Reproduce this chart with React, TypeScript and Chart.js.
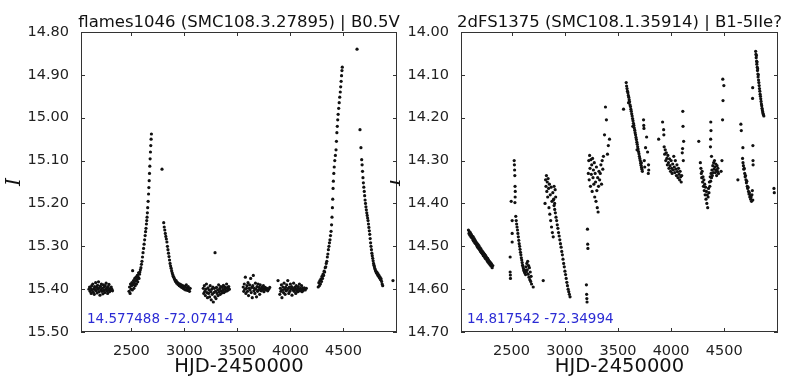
import React, { useEffect, useRef } from "react";
import { Chart, registerables } from "chart.js";

Chart.register(...registerables);

type Pt = [number, number];

// ---------- axes ----------
const X_MIN = 2025;
const X_MAX = 5005;
const X_TICKS = [2500, 3000, 3500, 4000, 4500];
const LEFT_Y_TICKS = [14.8, 14.9, 15.0, 15.1, 15.2, 15.3, 15.4, 15.5];
const RIGHT_Y_TICKS = [14.0, 14.1, 14.2, 14.3, 14.4, 14.5, 14.6, 14.7];

const LEFT_TITLE = "flames1046 (SMC108.3.27895) | B0.5V";
const RIGHT_TITLE = "2dFS1375 (SMC108.1.35914) | B1-5IIe?";
const LEFT_COORDS = "14.577488 -72.07414";
const RIGHT_COORDS = "14.817542 -72.34994";
const X_LABEL = "HJD-2450000";
const Y_LABEL = "I";

// ---------- left panel data: [HJD-2450000, I mag] ----------
const leftSeason1: Pt[] = [
  [2100,15.400],[2106,15.395],[2111,15.405],[2116,15.398],[2121,15.410],[2126,15.392],[2131,15.402],[2136,15.388],
  [2141,15.407],[2145,15.399],[2150,15.412],[2154,15.394],[2159,15.401],[2163,15.385],[2168,15.404],[2172,15.396],
  [2177,15.409],[2181,15.391],[2186,15.400],[2190,15.383],[2195,15.406],[2199,15.397],[2204,15.414],[2208,15.393],
  [2213,15.402],[2217,15.388],[2222,15.405],[2226,15.398],[2231,15.411],[2235,15.390],[2240,15.403],[2244,15.395],
  [2249,15.408],[2253,15.392],[2258,15.400],[2262,15.386],[2267,15.404],[2271,15.397],[2276,15.410],[2280,15.394],
  [2285,15.401],[2289,15.389],[2294,15.406],[2299,15.399],[2304,15.403],[2310,15.395],[2316,15.400],[2322,15.404],
];
const leftSeason2: Pt[] = [
  [2478,15.405],[2483,15.395],[2488,15.410],[2492,15.388],[2497,15.400],[2501,15.392],[2505,15.385],[2509,15.402],
  [2512,15.357],[2516,15.390],[2520,15.380],[2524,15.398],[2528,15.386],[2532,15.375],[2536,15.392],[2540,15.381],
  [2544,15.372],[2548,15.388],[2552,15.378],[2556,15.368],[2560,15.383],[2564,15.372],[2568,15.362],[2572,15.375],
  [2576,15.365],[2580,15.360],[2585,15.355],[2590,15.350],[2595,15.342],[2600,15.335],[2605,15.325],[2610,15.315],
  [2615,15.305],[2620,15.295],[2625,15.285],[2630,15.275],[2634,15.266],[2638,15.258],[2642,15.248],[2645,15.240],
  [2648,15.232],[2651,15.222],[2654,15.210],[2658,15.195],[2662,15.178],[2665,15.163],[2668,15.147],[2671,15.130],
  [2674,15.113],[2677,15.096],[2680,15.080],[2683,15.065],[2686,15.050],[2689,15.038],
];
const leftIsolated: Pt[] = [
  [2789,15.120],[3289,15.315],[4628,14.840],[4967,15.380],
];
const leftSeason3: Pt[] = [
  [2805,15.245],[2810,15.255],[2815,15.262],[2820,15.270],[2825,15.277],[2830,15.283],[2835,15.290],[2840,15.300],
  [2845,15.308],[2850,15.316],[2855,15.324],[2860,15.332],[2865,15.340],[2870,15.346],[2875,15.351],[2880,15.357],
  [2885,15.362],[2890,15.366],[2895,15.370],[2900,15.372],[2905,15.376],[2910,15.378],[2916,15.382],[2922,15.380],
  [2928,15.386],[2934,15.384],[2940,15.389],[2946,15.387],[2952,15.392],[2958,15.388],[2964,15.394],[2970,15.390],
  [2976,15.396],[2982,15.392],[2988,15.398],[2994,15.393],[3000,15.400],[3006,15.395],[3012,15.402],[3018,15.390],
  [3024,15.397],[3030,15.403],[3036,15.394],[3042,15.400],[3048,15.405],[3054,15.398],
];
const leftSeason4: Pt[] = [
  [3178,15.398],[3183,15.410],[3188,15.392],[3193,15.405],[3198,15.415],[3203,15.400],[3208,15.388],[3213,15.408],
  [3218,15.420],[3223,15.397],[3228,15.410],[3233,15.402],[3238,15.418],[3243,15.392],[3248,15.406],[3253,15.425],
  [3258,15.400],[3263,15.412],[3268,15.395],[3273,15.430],[3278,15.408],[3283,15.398],[3288,15.418],[3293,15.405],
  [3298,15.422],[3303,15.396],[3308,15.410],[3313,15.402],[3318,15.415],[3323,15.390],[3328,15.406],[3333,15.399],
  [3338,15.412],[3343,15.394],[3348,15.404],[3353,15.409],[3358,15.396],[3363,15.403],[3368,15.391],[3373,15.408],
  [3378,15.400],[3383,15.395],[3388,15.405],[3393,15.398],[3398,15.388],[3403,15.404],[3408,15.396],[3413,15.402],
  [3418,15.394],[3424,15.400],
];
const leftSeason5: Pt[] = [
  [3555,15.395],[3560,15.405],[3565,15.388],[3570,15.400],[3575,15.372],[3580,15.410],[3585,15.398],[3590,15.392],
  [3595,15.405],[3600,15.385],[3605,15.415],[3610,15.398],[3615,15.390],[3620,15.402],[3625,15.375],[3630,15.408],
  [3635,15.396],[3640,15.420],[3645,15.392],[3650,15.368],[3655,15.404],[3660,15.398],[3665,15.410],[3670,15.386],
  [3675,15.400],[3680,15.418],[3685,15.394],[3690,15.405],[3695,15.388],[3700,15.402],[3705,15.396],[3710,15.412],
  [3715,15.390],[3720,15.400],[3725,15.404],[3730,15.395],[3735,15.402],[3740,15.398],[3745,15.392],[3750,15.406],
  [3755,15.400],[3762,15.396],[3770,15.402],[3778,15.398],[3786,15.404],[3795,15.400],[3805,15.396],
];
const leftSeason6: Pt[] = [
  [3883,15.380],[3900,15.412],[3905,15.398],[3910,15.405],[3915,15.390],[3920,15.420],[3925,15.402],[3930,15.395],
  [3935,15.408],[3940,15.386],[3945,15.400],[3950,15.412],[3955,15.396],[3960,15.404],[3965,15.390],[3970,15.402],
  [3975,15.380],[3980,15.398],[3985,15.410],[3990,15.395],[3995,15.405],[4000,15.388],[4005,15.400],[4010,15.394],
  [4015,15.414],[4020,15.398],[4025,15.402],[4030,15.386],[4035,15.405],[4040,15.396],[4045,15.400],[4050,15.410],
  [4055,15.392],[4060,15.403],[4065,15.398],[4070,15.406],[4075,15.394],[4080,15.400],[4085,15.388],[4090,15.404],
  [4095,15.398],[4100,15.402],[4105,15.392],[4110,15.406],[4115,15.398],[4120,15.403],[4130,15.397],[4140,15.402],
  [4150,15.398],
];
const leftSeason7: Pt[] = [
  [4262,15.395],[4268,15.385],[4273,15.392],[4278,15.380],[4283,15.388],[4288,15.376],[4293,15.382],[4298,15.370],
  [4303,15.375],[4308,15.365],[4313,15.368],[4318,15.358],[4323,15.360],[4328,15.350],[4333,15.348],[4338,15.340],
  [4343,15.335],[4348,15.325],[4353,15.318],[4358,15.308],[4363,15.300],[4368,15.292],[4373,15.285],[4378,15.275],
  [4383,15.265],[4388,15.250],[4392,15.232],[4396,15.210],[4399,15.190],[4402,15.165],[4405,15.148],[4409,15.130],
  [4413,15.115],[4418,15.100],[4424,15.088],[4430,15.075],[4434,15.055],[4438,15.035],[4442,15.020],[4446,15.005],
  [4450,14.992],[4455,14.978],[4460,14.965],[4465,14.952],[4470,14.940],[4474,14.928],[4478,14.915],[4482,14.902],
  [4486,14.890],[4489,14.882],
];
const leftSeason8: Pt[] = [
  [4656,15.028],[4665,15.070],[4672,15.098],[4676,15.110],[4680,15.125],[4684,15.140],[4688,15.152],[4692,15.162],
  [4696,15.172],[4700,15.182],[4704,15.192],[4708,15.200],[4712,15.208],[4716,15.215],[4720,15.222],[4724,15.228],
  [4728,15.234],[4732,15.240],[4736,15.248],[4740,15.256],[4744,15.264],[4748,15.272],[4752,15.282],[4756,15.292],
  [4760,15.300],[4764,15.308],[4768,15.316],[4772,15.322],[4776,15.328],[4780,15.334],[4784,15.340],[4788,15.344],
  [4792,15.348],[4796,15.352],[4800,15.355],[4805,15.358],[4810,15.362],[4815,15.360],[4820,15.366],[4825,15.364],
  [4830,15.370],[4835,15.368],[4840,15.374],[4845,15.372],[4850,15.378],[4855,15.376],[4860,15.382],[4865,15.388],
  [4870,15.392],
];

// ---------- right panel data ----------
const rightSeason1: Pt[] = [
  [2095,14.462],[2100,14.470],[2104,14.466],[2109,14.474],[2113,14.468],[2118,14.478],[2122,14.472],[2127,14.480],
  [2131,14.476],[2136,14.485],[2140,14.478],[2145,14.488],[2149,14.482],[2154,14.492],[2158,14.486],[2163,14.494],
  [2167,14.490],[2172,14.498],[2176,14.493],[2181,14.502],[2185,14.496],[2190,14.505],[2194,14.499],[2199,14.508],
  [2203,14.503],[2208,14.512],[2212,14.506],[2217,14.515],[2221,14.510],[2226,14.518],[2230,14.513],[2235,14.522],
  [2239,14.516],[2244,14.524],[2248,14.519],[2253,14.528],[2257,14.522],[2262,14.530],[2266,14.526],[2271,14.534],
  [2275,14.528],[2280,14.537],[2284,14.532],[2289,14.540],[2293,14.535],[2298,14.543],[2302,14.538],[2307,14.546],
  [2312,14.541],[2318,14.550],[2324,14.545],
];
const rightSeason2: Pt[] = [
  [2525,14.300],[2527,14.310],[2529,14.322],[2531,14.335],[2533,14.360],[2535,14.372],[2534,14.385],[2532,14.398],
  [2497,14.395],[2506,14.440],[2506,14.470],[2506,14.490],[2487,14.525],[2487,14.560],[2489,14.567],[2490,14.575],
  [2540,14.430],[2544,14.440],[2548,14.448],[2552,14.455],[2556,14.462],[2560,14.470],[2564,14.478],[2568,14.486],
  [2572,14.494],[2576,14.500],[2580,14.507],[2584,14.514],[2588,14.520],[2592,14.527],[2596,14.532],[2600,14.538],
  [2604,14.544],[2608,14.548],[2612,14.552],[2616,14.556],[2620,14.559],[2624,14.562],[2628,14.556],[2632,14.566],
  [2636,14.548],[2640,14.560],[2644,14.540],[2648,14.555],[2652,14.535],[2656,14.565],[2660,14.545],[2664,14.572],
  [2668,14.550],[2672,14.578],[2676,14.560],[2680,14.582],[2684,14.570],[2688,14.588],[2704,14.595],
];
const rightIsolated: Pt[] = [
  [2798,14.580],[4628,14.345],[4967,14.365],[4970,14.375],
];
const rightSeason3: Pt[] = [
  [2815,14.400],[2820,14.345],[2824,14.360],[2828,14.335],[2832,14.372],[2836,14.350],[2840,14.385],[2844,14.342],
  [2848,14.365],[2852,14.410],[2856,14.355],[2860,14.425],[2864,14.380],[2868,14.440],[2872,14.362],[2876,14.455],
  [2880,14.395],[2884,14.468],[2888,14.375],[2892,14.478],[2896,14.390],[2900,14.360],[2905,14.400],[2910,14.368],
  [2915,14.385],
  [2893,14.392],[2900,14.405],[2906,14.414],[2912,14.422],[2918,14.432],[2924,14.440],[2930,14.450],[2936,14.458],
  [2942,14.468],[2948,14.476],[2954,14.485],[2960,14.494],[2966,14.502],[2972,14.512],[2978,14.520],[2984,14.530],
  [2990,14.540],[2996,14.548],[3002,14.558],[3008,14.566],[3014,14.575],[3020,14.584],[3026,14.592],[3032,14.600],
  [3038,14.606],[3044,14.612],[3050,14.618],
];
const rightSeason4: Pt[] = [
  [3204,14.590],[3206,14.612],[3208,14.622],[3210,14.630],[3214,14.460],[3216,14.495],[3218,14.505],
  [3222,14.330],[3226,14.300],[3230,14.345],[3234,14.288],[3238,14.318],[3242,14.360],[3246,14.298],[3250,14.332],
  [3254,14.310],[3258,14.372],[3262,14.295],[3266,14.340],[3270,14.322],[3274,14.355],[3278,14.305],[3282,14.385],
  [3286,14.330],[3290,14.350],[3294,14.395],[3298,14.315],[3302,14.370],[3306,14.410],[3310,14.340],[3314,14.420],
  [3318,14.360],[3322,14.325],[3328,14.345],[3334,14.330],[3340,14.310],[3346,14.355],[3352,14.300],[3358,14.320],
  [3364,14.290],
  [3374,14.240],[3383,14.175],[3392,14.205],[3402,14.285],[3421,14.250],[3410,14.265],
];
const rightSeason5: Pt[] = [
  [3553,14.180],
  [3578,14.118],[3582,14.126],[3586,14.132],[3590,14.138],[3594,14.142],[3598,14.148],[3602,14.152],[3606,14.158],
  [3610,14.163],[3614,14.170],[3618,14.174],[3622,14.180],[3626,14.185],[3630,14.191],[3634,14.196],[3638,14.202],
  [3642,14.207],[3646,14.213],[3650,14.218],[3654,14.224],[3658,14.229],[3662,14.235],[3666,14.240],[3670,14.246],
  [3674,14.251],[3678,14.257],[3682,14.262],[3686,14.268],[3690,14.273],[3694,14.279],[3698,14.284],[3702,14.290],
  [3706,14.295],[3710,14.300],[3714,14.306],[3718,14.311],[3722,14.316],[3726,14.320],[3730,14.325],
  [3600,14.165],[3640,14.220],[3680,14.275],[3720,14.305],
  [3741,14.205],[3743,14.218],[3745,14.225],[3770,14.245],[3760,14.270],[3779,14.280],[3788,14.310],[3790,14.322],
  [3786,14.330],[3748,14.300],[3752,14.315],
];
const rightSeason6: Pt[] = [
  [3883,14.250],[3920,14.210],[3930,14.228],[3932,14.240],
  [3935,14.268],[3940,14.285],[3945,14.275],[3950,14.300],[3955,14.282],[3960,14.295],[3965,14.310],[3970,14.288],
  [3975,14.305],[3980,14.318],[3985,14.296],[3990,14.312],[3995,14.325],[4000,14.300],[4005,14.318],[4010,14.330],
  [4015,14.308],[4020,14.322],[4025,14.290],[4030,14.315],[4035,14.328],[4040,14.300],[4045,14.320],[4050,14.335],
  [4055,14.310],[4060,14.326],[4065,14.340],[4070,14.318],[4075,14.332],[4080,14.345],[4085,14.325],[4090,14.338],
  [4095,14.350],[4100,14.335],
  [4110,14.185],[4112,14.220],[4118,14.255],[4108,14.272],[4105,14.282],[4115,14.300],
];
const rightSeason7: Pt[] = [
  [4260,14.255],
  [4275,14.305],[4280,14.318],[4284,14.330],[4288,14.340],[4292,14.325],[4296,14.350],[4300,14.338],[4304,14.360],
  [4308,14.345],[4312,14.370],[4316,14.355],[4320,14.380],[4324,14.362],[4328,14.390],[4332,14.372],[4336,14.400],
  [4340,14.380],[4344,14.410],[4348,14.385],[4352,14.365],[4356,14.375],[4360,14.350],[4364,14.360],[4368,14.338],
  [4372,14.348],[4376,14.330],[4380,14.340],[4384,14.322],[4388,14.335],[4392,14.312],[4396,14.328],[4400,14.305],
  [4404,14.320],[4408,14.300],[4412,14.315],[4416,14.328],[4420,14.308],[4424,14.322],[4428,14.335],[4432,14.312],
  [4436,14.325],[4440,14.318],[4446,14.330],
  [4373,14.210],[4375,14.230],[4372,14.250],[4370,14.268],[4380,14.290],[4486,14.110],[4496,14.125],[4488,14.160],
  [4484,14.205],[4478,14.300],[4470,14.325],
];
const rightSeason8: Pt[] = [
  [4656,14.215],[4660,14.230],[4675,14.270],
  [4672,14.295],[4676,14.305],[4680,14.312],[4684,14.320],[4688,14.318],[4692,14.330],[4696,14.338],[4700,14.335],
  [4704,14.345],[4708,14.352],[4712,14.348],[4716,14.360],[4720,14.365],[4724,14.362],[4728,14.372],[4732,14.378],
  [4736,14.375],[4740,14.385],[4744,14.382],[4748,14.390],[4752,14.385],[4756,14.395],[4760,14.380],[4764,14.370],
  [4768,14.392],
  [4769,14.265],[4770,14.300],[4771,14.310],[4767,14.130],[4766,14.155],
  [4795,14.045],[4798,14.052],[4800,14.060],[4802,14.055],[4804,14.068],[4806,14.075],[4808,14.070],[4810,14.082],
  [4812,14.090],[4814,14.086],[4816,14.098],[4818,14.105],[4820,14.100],[4822,14.112],[4825,14.118],[4828,14.125],
  [4831,14.132],[4834,14.138],[4837,14.145],[4840,14.150],[4843,14.156],[4846,14.162],[4849,14.168],[4852,14.172],
  [4855,14.178],[4858,14.182],[4861,14.186],[4864,14.190],[4868,14.193],[4872,14.196],
];

const leftPoints: Pt[] = [
  ...leftSeason1, ...leftSeason2, ...leftIsolated, ...leftSeason3, ...leftSeason4,
  ...leftSeason5, ...leftSeason6, ...leftSeason7, ...leftSeason8,
];
const rightPoints: Pt[] = [
  ...rightSeason1, ...rightSeason2, ...rightIsolated, ...rightSeason3, ...rightSeason4,
  ...rightSeason5, ...rightSeason6, ...rightSeason7, ...rightSeason8,
];

const SANS = "'DejaVu Sans', 'Bitstream Vera Sans', sans-serif";

type PanelProps = {
  left: number;
  width: number;
  points: Pt[];
  yTicks: number[];
  title: string;
  coords: string;
  yAxisWidth: number;
  padRight: number;
};

function Panel({ left, width, points, yTicks, title, coords, yAxisWidth, padRight }: PanelProps) {
  const ref = useRef<HTMLCanvasElement | null>(null);
  useEffect(() => {
    const canvas = ref.current;
    if (!canvas) return;
    const yMin = yTicks[0];
    const yMax = yTicks[yTicks.length - 1];
    const deco = {
      id: "deco",
      afterDraw(chart: any) {
        const { ctx, chartArea: a, scales } = chart;
        ctx.save();
        // frame
        ctx.strokeStyle = "#333";
        ctx.lineWidth = 1;
        ctx.strokeRect(a.left + 0.5, a.top + 0.5, a.right - a.left - 1, a.bottom - a.top - 1);
        // inward ticks
        ctx.beginPath();
        for (const v of X_TICKS) {
          const px = Math.round(scales.x.getPixelForValue(v)) + 0.5;
          ctx.moveTo(px, a.bottom);
          ctx.lineTo(px, a.bottom - 4);
          ctx.moveTo(px, a.top);
          ctx.lineTo(px, a.top + 4);
        }
        for (const v of yTicks) {
          const py = Math.round(scales.y.getPixelForValue(v)) + 0.5;
          ctx.moveTo(a.left, py);
          ctx.lineTo(a.left + 4, py);
          ctx.moveTo(a.right, py);
          ctx.lineTo(a.right - 4, py);
        }
        ctx.stroke();
        // title
        const cx = (a.left + a.right) / 2;
        ctx.fillStyle = "#111";
        ctx.textAlign = "center";
        ctx.textBaseline = "alphabetic";
        ctx.font = `16.5px ${SANS}`;
        ctx.fillText(title, cx, 27);
        // x label
        ctx.font = `19.5px ${SANS}`;
        ctx.fillText(X_LABEL, cx, 372);
        // y label
        ctx.save();
        ctx.translate(a.left - 66, (a.top + a.bottom) / 2);
        ctx.rotate(-Math.PI / 2);
        ctx.font = `italic 20px 'DejaVu Serif', serif`;
        ctx.textBaseline = "middle";
        ctx.fillText(Y_LABEL, 0, 0);
        ctx.restore();
        // coordinates
        ctx.fillStyle = "#2b2bd4";
        ctx.textAlign = "left";
        ctx.textBaseline = "middle";
        ctx.font = `13.5px ${SANS}`;
        ctx.fillText(coords, a.left + 6, 319);
        ctx.restore();
      },
    };
    const chart = new Chart(canvas, {
      type: "scatter",
      data: {
        datasets: [
          {
            data: points.map(([x, y]) => ({ x, y })),
            backgroundColor: "#111",
            borderWidth: 0,
            pointRadius: 1.6,
            pointHoverRadius: 1.6,
          },
        ],
      },
      options: {
        responsive: false,
        animation: false,
        devicePixelRatio: 1,
        events: [],
        layout: { padding: { top: 32, right: padRight, left: 0, bottom: 0 } },
        plugins: { legend: { display: false }, tooltip: { enabled: false }, title: { display: false } },
        scales: {
          x: {
            type: "linear",
            min: X_MIN,
            max: X_MAX,
            grid: { display: false },
            border: { display: false },
            afterBuildTicks: (s: any) => {
              s.ticks = X_TICKS.map((value) => ({ value }));
            },
            afterFit: (s: any) => {
              s.height = 44;
            },
            ticks: {
              color: "#222",
              font: { family: SANS, size: 14.5 },
              padding: 3,
              maxRotation: 0,
              autoSkip: false,
              callback: (v: any) => String(v),
            },
          },
          y: {
            type: "linear",
            reverse: true,
            min: yMin,
            max: yMax,
            grid: { display: false },
            border: { display: false },
            afterBuildTicks: (s: any) => {
              s.ticks = yTicks.map((value) => ({ value }));
            },
            afterFit: (s: any) => {
              s.width = yAxisWidth;
            },
            ticks: {
              color: "#222",
              font: { family: SANS, size: 14.5 },
              padding: 4,
              autoSkip: false,
              callback: (v: any) => Number(v).toFixed(2),
            },
          },
        },
      },
      plugins: [deco],
    } as any);
    return () => chart.destroy();
  }, []);
  return (
    <canvas
      ref={ref}
      width={width}
      height={376}
      style={{ position: "absolute", left, top: 0, width, height: 376 }}
    />
  );
}

export default function App() {
  return (
    <div style={{ position: "fixed", left: 0, top: 0, width: 787, height: 376, background: "#fff", overflow: "hidden" }}>
      <Panel
        left={0}
        width={400}
        points={leftPoints}
        yTicks={LEFT_Y_TICKS}
        title={LEFT_TITLE}
        coords={LEFT_COORDS}
        yAxisWidth={81}
        padRight={3}
      />
      <Panel
        left={390}
        width={397}
        points={rightPoints}
        yTicks={RIGHT_Y_TICKS}
        title={RIGHT_TITLE}
        coords={RIGHT_COORDS}
        yAxisWidth={71}
        padRight={9}
      />
    </div>
  );
}
